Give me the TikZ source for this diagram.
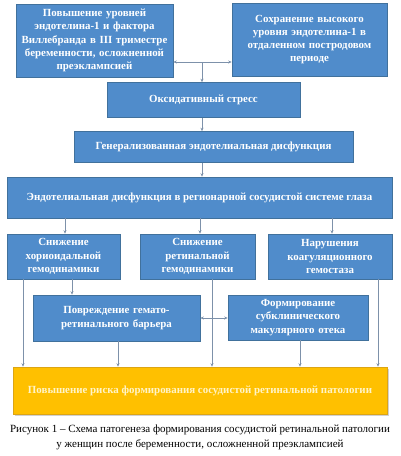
\documentclass[tikz,border=0pt]{standalone}
\usepackage{fontspec}
\setmainfont{Liberation Serif}
\usetikzlibrary{arrows.meta}
\definecolor{boxblue}{RGB}{80,140,203}
\definecolor{boxedge}{RGB}{65,113,156}
\definecolor{gold}{RGB}{255,192,0}
\definecolor{goldedge}{RGB}{220,165,20}
\definecolor{linec}{RGB}{125,145,170}
\definecolor{goldtext}{RGB}{255,244,200}
\begin{document}
\begin{tikzpicture}[x=1pt,y=-1pt,
  bbox/.style={draw=boxedge,line width=0.6pt,fill=boxblue,text=white,font=\bfseries\fontsize{10.9}{13.2}\selectfont,align=center,inner sep=0pt},
  conn/.style={draw=linec,line width=0.6pt,-{Stealth[length=3.5pt,width=3pt]}},
  conn2/.style={draw=linec,line width=0.6pt,{Stealth[length=3.5pt,width=3pt]}-{Stealth[length=3.5pt,width=3pt]}}]
\useasboundingbox (0,0) rectangle (400,456);
\fill[white] (0,0) rectangle (400,456);
\node[bbox,minimum width=157pt,minimum height=73pt,text width=155pt] (b1) at (94.5,40.5) {Повышение уровней\\эндотелина-1 и фактора\\Виллебранда в III триместре\\беременности, осложненной\\преэклампсией};
\node[bbox,minimum width=155pt,minimum height=73pt,text width=150pt] (b2) at (309.5,39.5) {Сохранение высокого\\уровня эндотелина-1 в\\отдаленном постродовом\\периоде};
\node[bbox,minimum width=193pt,minimum height=35pt] (b3) at (203.5,100) {Оксидативный стресс};
\node[bbox,minimum width=279pt,minimum height=31pt] (b4) at (213.5,147) {Генерализованная эндотелиальная дисфункция};
\node[bbox,minimum width=385pt,minimum height=41pt] (b5) at (199.5,197.5) {Эндотелиальная дисфункция в регионарной сосудистой системе глаза};
\node[bbox,minimum width=113pt,minimum height=45pt,text width=112pt] (b6) at (63.5,256.5) {Снижение\\хориоидальной\\гемодинамики};
\node[bbox,minimum width=115pt,minimum height=45pt,text width=112pt] (b7) at (197.5,256.5) {Снижение\\ретинальной\\гемодинамики};
\node[bbox,minimum width=124pt,minimum height=45pt,text width=120pt] (b8) at (330,256.5) {Нарушения\\коагуляционного\\гемостаза};
\node[bbox,minimum width=167pt,minimum height=46pt,text width=164pt] (b9) at (116.5,318) {Повреждение гемато-\\ретинального барьера};
\node[bbox,minimum width=140pt,minimum height=45pt,text width=138pt] (b10) at (298,317.5) {Формирование\\субклинического\\макулярного отека};
\fill[black!18] (15,369) rectangle (389,416);
\node[draw=goldedge,line width=0.6pt,fill=gold,text=goldtext,font=\bfseries\fontsize{10.9}{12}\selectfont,inner sep=0pt,minimum width=374pt,minimum height=47pt] (b11) at (200,390.5) {Повышение риска формирования сосудистой ретинальной патологии};
\node[font=\fontsize{11}{15.5}\selectfont,align=center,inner sep=0pt] (cap) at (200,437.5) {Рисунок 1 – Схема патогенеза формирования сосудистой ретинальной патологии\\у женщин после беременности, осложненной преэклампсией};
% top connectors
\coordinate (j) at (202,62);
\draw[conn2] (b1.east|-j) -- (b2.west|-j);
\draw[conn] (j) -- (j|-b3.north);
\draw[conn] (b3.south-|j) -- (b4.north-|j);
\draw[conn] (b4.south-|j) -- (b5.north-|j);
\coordinate (c6) at (65,0);
\coordinate (c7) at (200,0);
\coordinate (c8) at (332,0);
\draw[conn] (b5.south-|c6) -- (b6.north-|c6);
\draw[conn] (b5.south-|c7) -- (b7.north-|c7);
\draw[conn] (b5.south-|c8) -- (b8.north-|c8);
\coordinate (d1) at (23,0);
\coordinate (d2) at (72,0);
\coordinate (d3) at (212,0);
\coordinate (d4) at (378,0);
\coordinate (d5) at (118,0);
\coordinate (d6) at (300,0);
\draw[conn] (b6.south-|d1) -- (b11.north-|d1);
\draw[conn] (b6.south-|d2) -- (b9.north-|d2);
\draw[conn] (b7.south-|d3) -- (b11.north-|d3);
\draw[conn] (b8.south-|d4) -- (b11.north-|d4);
\draw[conn] (b9.south-|d5) -- (b11.north-|d5);
\draw[conn] (b10.south-|d6) -- (b11.north-|d6);
\draw[conn2] (b9.east) -- (b10.west|-b9.east);
\end{tikzpicture}
\end{document}
